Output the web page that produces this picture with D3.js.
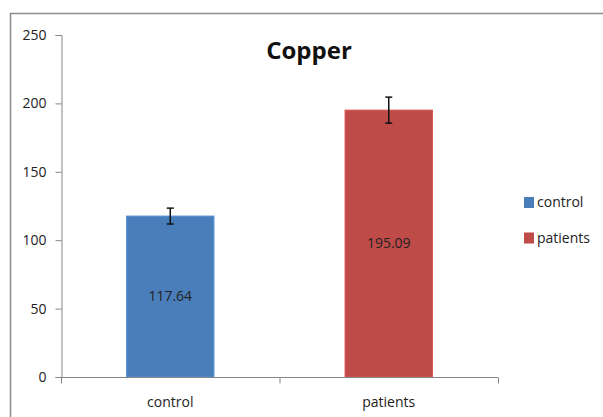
<!DOCTYPE html>
<html>
<head>
<meta charset="utf-8">
<script src="https://cdn.jsdelivr.net/npm/d3@7"></script>
<style>
  body { margin: 0; background: #fff; }
  svg { display: block; }
  svg text { font-family: 'Open Sans', sans-serif; }
</style>
</head>
<body>
<svg id="chart" width="603" height="417"></svg>
<script>
const CATEGORIES = ['control', 'patients'];
const VALUES = [117.64, 195.09];
const ERRORS = [5.8, 9.5];
const COLORS = ['#4a7ebb', '#be4b48'];
const Y_TICKS = [0, 50, 100, 150, 200, 250];
const TITLE = 'Copper';

const SVG = d3.select('#chart');
const LEFT = 61;
const RIGHT = 498;
const TOP = 35;
const BOTTOM = 377;

// outer frame (partially cropped, like the original)
SVG.append('rect')
  .attr('x', 10.5)
  .attr('y', 13.5)
  .attr('width', 700)
  .attr('height', 500)
  .style('fill', 'none')
  .style('stroke', '#8c8c8c')
  .style('stroke-width', 1.5);

const Y_SCALE = d3.scaleLinear().domain([0, 250]).range([BOTTOM, TOP]);
const X_SCALE = d3.scaleBand().domain(CATEGORIES).range([LEFT, RIGHT]).paddingInner(0.6).paddingOuter(0.3);
const X_GRID = d3.scaleBand().domain(CATEGORIES).range([LEFT, RIGHT]);

const Y_AXIS_G = SVG.append('g')
  .attr('transform', `translate(${LEFT + 0.5}, 0)`)
  .call(d3.axisLeft(Y_SCALE).tickValues(Y_TICKS).tickSize(6).tickPadding(9));
Y_AXIS_G.select('.domain').style('stroke', '#868686');
Y_AXIS_G.selectAll('.tick line').style('stroke', '#868686');
Y_AXIS_G.selectAll('.tick text').style('font-size', '14px').style('fill', '#222');

// bars
const BARS = SVG.append('g');
BARS.selectAll('rect')
  .data(VALUES)
  .join('rect')
  .attr('x', (d, i) => X_SCALE(CATEGORIES[i]))
  .attr('y', (d) => Y_SCALE(d))
  .attr('width', X_SCALE.bandwidth())
  .attr('height', (d) => BOTTOM - Y_SCALE(d))
  .style('fill', (d, i) => COLORS[i])
  .style('stroke', (d, i) => d3.color(COLORS[i]).brighter(0.4))
  .style('stroke-width', 1);

// x axis
const X_AXIS_G = SVG.append('g').attr('transform', `translate(0, ${BOTTOM + 0.5})`);
X_AXIS_G.append('line')
  .attr('x1', LEFT).attr('x2', RIGHT)
  .style('stroke', '#868686');
X_AXIS_G.selectAll('line.tk')
  .data([LEFT, ...CATEGORIES.map((c) => X_GRID(c) + X_GRID.bandwidth())])
  .join('line')
  .attr('class', 'tk')
  .attr('x1', (d) => d + 0.5).attr('x2', (d) => d + 0.5)
  .attr('y1', 0).attr('y2', 6)
  .style('stroke', '#868686');
X_AXIS_G.selectAll('text')
  .data(CATEGORIES)
  .join('text')
  .attr('x', (d) => X_SCALE(d) + X_SCALE.bandwidth() / 2)
  .attr('y', 29)
  .attr('text-anchor', 'middle')
  .style('font-size', '14px')
  .style('fill', '#222')
  .text((d) => d);

// error bars
const ERR = SVG.append('g').style('stroke', '#111').style('stroke-width', 1.5);
VALUES.forEach((v, i) => {
  const cx = X_SCALE(CATEGORIES[i]) + X_SCALE.bandwidth() / 2;
  const y1 = Y_SCALE(v + ERRORS[i]);
  const y2 = Y_SCALE(v - ERRORS[i]);
  ERR.append('line').attr('x1', cx).attr('x2', cx).attr('y1', y1).attr('y2', y2);
  ERR.append('line').attr('x1', cx - 3.5).attr('x2', cx + 3.5).attr('y1', y1).attr('y2', y1);
  ERR.append('line').attr('x1', cx - 3.5).attr('x2', cx + 3.5).attr('y1', y2).attr('y2', y2);
});

// value labels
SVG.append('g')
  .selectAll('text')
  .data(VALUES)
  .join('text')
  .attr('x', (d, i) => X_SCALE(CATEGORIES[i]) + X_SCALE.bandwidth() / 2)
  .attr('y', (d) => (Y_SCALE(d) + BOTTOM) / 2)
  .attr('dy', '0.35em')
  .attr('text-anchor', 'middle')
  .style('font-size', '14px')
  .style('fill', '#222')
  .text((d) => d.toFixed(2));

// title
SVG.append('text')
  .attr('x', 309)
  .attr('y', 58.5)
  .attr('text-anchor', 'middle')
  .style('font-size', '24px')
  .style('font-weight', 'bold')
  .style('fill', '#111')
  .text(TITLE);

// legend
const LEGEND = SVG.append('g').attr('transform', 'translate(524, 197)');
CATEGORIES.forEach((c, i) => {
  const g = LEGEND.append('g').attr('transform', `translate(0, ${i * 35.5})`);
  g.append('rect').attr('width', 10).attr('height', 11).style('fill', COLORS[i]);
  g.append('text')
    .attr('x', 13).attr('y', 10)
    .style('font-size', '14px')
    .style('fill', '#222')
    .text(c);
});
</script>
</body>
</html>
